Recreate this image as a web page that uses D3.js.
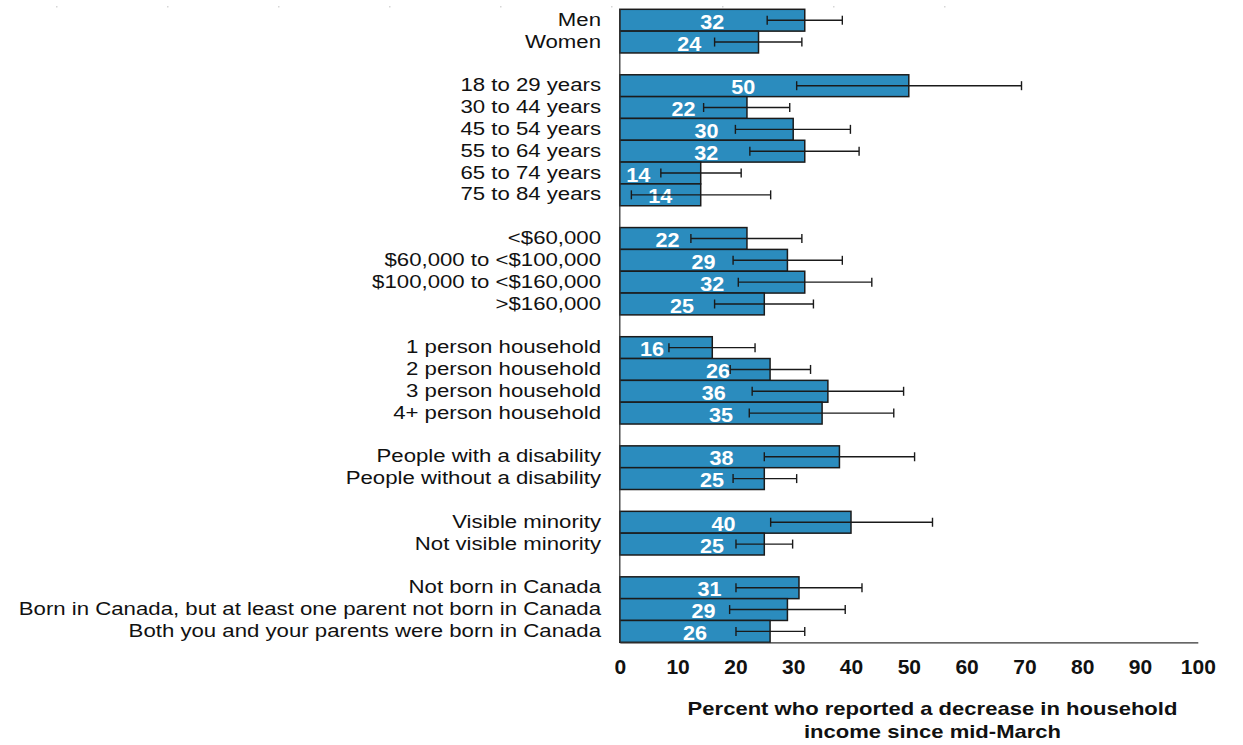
<!DOCTYPE html>
<html>
<head>
<meta charset="utf-8">
<script src="https://cdn.jsdelivr.net/npm/d3@7/dist/d3.min.js"></script>
<style>
  html, body { margin: 0; padding: 0; background: #fff; }
  svg { display: block; }
</style>
</head>
<body>
<svg id="chart" width="1243" height="745"></svg>
<script>
// Share of people reporting a decrease in household income, by group
const categories = [
  "Men", "Women",
  "18 to 29 years", "30 to 44 years", "45 to 54 years", "55 to 64 years", "65 to 74 years", "75 to 84 years",
  "<$60,000", "$60,000 to <$100,000", "$100,000 to <$160,000", ">$160,000",
  "1 person household", "2 person household", "3 person household", "4+ person household",
  "People with a disability", "People without a disability",
  "Visible minority", "Not visible minority",
  "Not born in Canada", "Born in Canada, but at least one parent not born in Canada", "Both you and your parents were born in Canada"
];
const groupSizes = [2, 6, 4, 4, 2, 2, 3];
const values = [32, 24, 50, 22, 30, 32, 14, 14, 22, 29, 32, 25, 16, 26, 36, 35, 38, 25, 40, 25, 31, 29, 26];
const lower  = [25.5, 16.4, 30.6, 14.5, 20.0, 22.5, 7.1, 2.0, 12.3, 19.6, 20.5, 16.4, 8.5, 19.1, 22.9, 22.4, 25.0, 19.6, 26.1, 20.1, 20.1, 19.0, 20.1];
const upper  = [38.5, 31.5, 69.5, 29.4, 39.9, 41.4, 21.0, 26.1, 31.5, 38.5, 43.6, 33.5, 23.4, 33.0, 49.1, 47.4, 51.0, 30.6, 54.1, 29.9, 41.9, 39.0, 32.0];
const xTicks = [0, 10, 20, 30, 40, 50, 60, 70, 80, 90, 100];
const axisTitle = ["Percent who reported a decrease in household", "income since mid-March"];

// Build the row list: one slot per category, with an empty slot between groups
const rows = [];
let k = 0;
groupSizes.forEach((n, g) => {
  if (g > 0) rows.push({ key: "gap" + g, gap: true });
  for (let i = 0; i < n; i++, k++) {
    rows.push({ key: "c" + k, idx: k, label: categories[k], value: values[k], lo: lower[k], hi: upper[k] });
  }
});
const bars = rows.filter(r => !r.gap);

// Horizontal shifts for the value labels so they clear the error bars
const labelNudge = { 2: -21, 5: -6, 6: -22, 8: -16, 11: -10, 12: -14, 13: 23, 14: -10, 16: -8, 17: 20, 18: -12, 19: 20 };

const svg = d3.select("#chart");
const x = d3.scaleLinear().domain([0, 100]).range([619.8, 1197.8]);
const y = d3.scaleBand().domain(rows.map(r => r.key)).range([9.3, 642.3]).padding(0);
const mid = d => y(d.key) + y.bandwidth() / 2;

const font = "Arial, 'Liberation Sans', sans-serif";

// faint marks along the top edge
svg.append("g").selectAll("rect")
  .data(d3.range(9))
  .join("rect")
  .attr("x", i => 56 + i * 111)
  .attr("y", 6)
  .attr("width", 1.5)
  .attr("height", 1.5)
  .attr("fill", "#d6d6d6");

// bars
svg.append("g").selectAll("rect")
  .data(bars)
  .join("rect")
  .attr("x", x(0))
  .attr("y", d => y(d.key))
  .attr("width", d => x(d.value) - x(0))
  .attr("height", y.bandwidth())
  .attr("fill", "#2b8cbe")
  .attr("stroke", "#1b1b1b")
  .attr("stroke-width", 1.5);

// value labels
svg.append("g").selectAll("text")
  .data(bars)
  .join("text")
  .attr("transform", d => `translate(${(x(0) + x(d.value)) / 2 + (labelNudge[d.idx] || 0)},${mid(d) + 8.6}) scale(1.08,1)`)
  .attr("text-anchor", "middle")
  .attr("font-family", font)
  .attr("font-weight", "bold")
  .attr("font-size", 20)
  .attr("fill", "#fff")
  .text(d => d.value);

// error bars
const eb = svg.append("g").attr("stroke", "#1a1a1a").attr("stroke-width", 1.4).attr("fill", "none");
bars.forEach(d => {
  const cy = mid(d);
  eb.append("line").attr("x1", x(d.lo)).attr("x2", x(d.hi)).attr("y1", cy).attr("y2", cy);
  eb.append("line").attr("x1", x(d.lo)).attr("x2", x(d.lo)).attr("y1", cy - 4.5).attr("y2", cy + 4.5);
  eb.append("line").attr("x1", x(d.hi)).attr("x2", x(d.hi)).attr("y1", cy - 4.5).attr("y2", cy + 4.5);
});

// category labels
svg.append("g").selectAll("text")
  .data(bars)
  .join("text")
  .attr("transform", d => `translate(601,${mid(d) + 5.6}) scale(1.2,1)`)
  .attr("text-anchor", "end")
  .attr("font-family", font)
  .attr("font-size", 18.5)
  .attr("fill", "#111")
  .text(d => d.label);

// axis lines
const yBottom = y.range()[1];
svg.append("line")
  .attr("x1", x(0)).attr("x2", x(0))
  .attr("y1", y.range()[0]).attr("y2", yBottom)
  .attr("stroke", "#333").attr("stroke-width", 1.3);

const xAxis = d3.axisBottom(x).tickValues(xTicks).tickSize(0);
const gx = svg.append("g").attr("transform", `translate(0,${yBottom})`).call(xAxis);
gx.select(".domain").attr("stroke", "#333").attr("stroke-width", 1.3);
gx.selectAll("text")
  .attr("y", 674 - yBottom)
  .attr("dy", 0)
  .attr("font-family", font)
  .attr("font-weight", "bold")
  .attr("font-size", 21)
  .attr("fill", "#111");

// axis title
svg.append("g")
  .attr("transform", "translate(932.5,0) scale(1.26,1)")
  .selectAll("text")
  .data(axisTitle)
  .join("text")
  .attr("x", 0)
  .attr("y", (d, i) => 715.5 + i * 23)
  .attr("text-anchor", "middle")
  .attr("font-family", font)
  .attr("font-weight", "bold")
  .attr("font-size", 17.5)
  .attr("fill", "#111")
  .text(d => d);
</script>
</body>
</html>
